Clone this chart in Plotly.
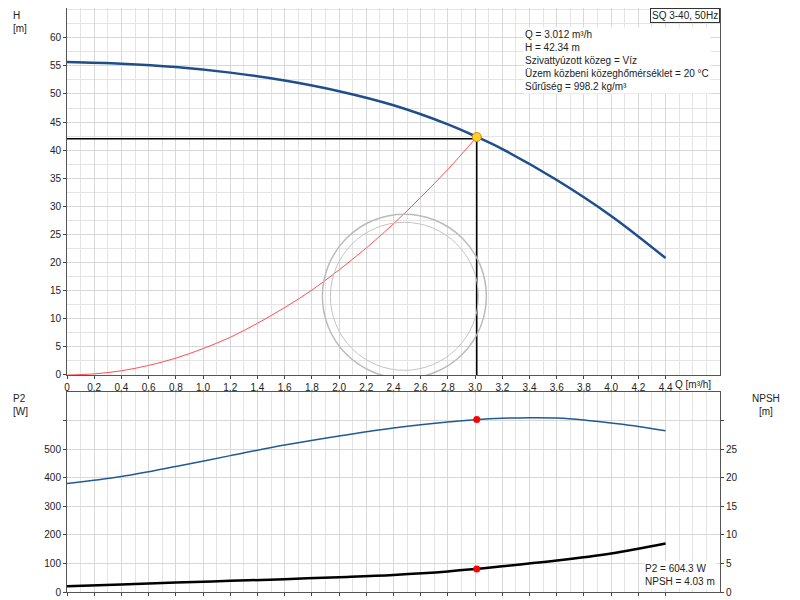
import plotly.graph_objects as go

# Pump curve H(Q)
q_h = [0, 0.4, 0.8, 1.2, 1.6, 2.0, 2.4, 2.8, 3.0, 3.2, 3.6, 4.0, 4.4]
h_vals = [55.7, 55.4, 54.8, 53.8, 52.4, 50.5, 48.0, 44.6, 42.5, 40.2, 34.7, 28.3, 20.8]
# System curve
q_sys = [0, 0.2, 0.4, 0.6, 0.8, 1.0, 1.2, 1.4, 1.6, 1.8, 2.0, 2.2, 2.4, 2.6, 2.8, 3.012]
h_sys = [0, 0.2, 0.75, 1.7, 3.0, 4.7, 6.7, 9.2, 12.0, 15.1, 18.7, 22.6, 26.9, 31.6, 36.6, 42.34]
# P2 and NPSH
q_p = [0, 0.4, 0.8, 1.2, 1.6, 2.0, 2.4, 2.8, 3.0, 3.2, 3.4, 3.6, 3.8, 4.0, 4.2, 4.4]
p2_vals = [380, 405, 440, 478, 515, 547, 575, 596, 604, 609, 611, 610, 603, 592, 580, 565]
q_n = [0, 0.4, 0.8, 1.2, 1.6, 2.0, 2.4, 2.8, 3.0, 3.2, 3.6, 4.0, 4.4]
npsh_vals = [1.0, 1.3, 1.65, 1.95, 2.25, 2.6, 3.0, 3.6, 4.03, 4.5, 5.5, 6.75, 8.5]
op_q, op_h, op_p2, op_npsh = 3.012, 42.34, 604.3, 4.03

x_ticks = [round(i * 0.2, 1) for i in range(23)]
x_text = [("0" if v == 0 else f"{v:.1f}".replace(".", ",")) for v in x_ticks]

font = dict(family="Liberation Sans, Arial", size=10, color="#222")
fig = go.Figure()

fig.add_trace(go.Scatter(x=q_sys, y=h_sys, mode="lines", line=dict(color="#ff5050", width=1, shape="spline"),
                         xaxis="x", yaxis="y"))
fig.add_trace(go.Scatter(x=q_h, y=h_vals, mode="lines", line=dict(color="#1f4e8c", width=2.5, shape="spline"),
                         xaxis="x", yaxis="y"))
fig.add_trace(go.Scatter(x=[0, op_q, op_q], y=[op_h - 0.3, op_h - 0.3, 0], mode="lines",
                         line=dict(color="black", width=1.5), xaxis="x", yaxis="y"))
fig.add_trace(go.Scatter(x=[op_q], y=[op_h], mode="markers",
                         marker=dict(color="#ffd030", size=9, line=dict(color="#e08000", width=1)),
                         xaxis="x", yaxis="y"))

fig.add_trace(go.Scatter(x=q_p, y=p2_vals, mode="lines", line=dict(color="#1f5a96", width=1.5, shape="spline"),
                         xaxis="x2", yaxis="y2"))
fig.add_trace(go.Scatter(x=[op_q], y=[op_p2], mode="markers", marker=dict(color="red", size=7),
                         xaxis="x2", yaxis="y2"))
fig.add_trace(go.Scatter(x=q_n, y=npsh_vals, mode="lines", line=dict(color="black", width=2.5, shape="spline"),
                         xaxis="x2", yaxis="y3"))
fig.add_trace(go.Scatter(x=[op_q], y=[op_npsh], mode="markers", marker=dict(color="red", size=7),
                         xaxis="x2", yaxis="y3"))

axcommon = dict(showline=True, linecolor="#555", mirror=True, ticks="outside", ticklen=3, automargin=False,
                gridcolor="#d8d8d8", zeroline=False, tickfont=font)
# faint watermark circles
wm = dict(type="circle", xref="x", yref="y", xsizemode="pixel", ysizemode="pixel", xanchor=2.48, yanchor=14)
fig.update_layout(
    width=792, height=592, showlegend=False, plot_bgcolor="white", paper_bgcolor="white",
    margin=dict(l=59, r=80, t=0, b=8), font=font,
    xaxis=dict(axcommon, range=[0, 4.8], domain=[0, 1], anchor="y", tickvals=x_ticks, ticktext=x_text,
               minor=dict(dtick=0.1, showgrid=True, gridcolor="#e4e4e4")),
    yaxis=dict(axcommon, range=[0, 65.3], domain=[0.3716, 1], tickvals=list(range(0, 65, 5)),
               minor=dict(dtick=2.5, showgrid=True, gridcolor="#e4e4e4")),
    xaxis2=dict(axcommon, range=[0, 4.8], domain=[0, 1], anchor="y2", tickvals=x_ticks, showticklabels=False,
                minor=dict(dtick=0.1, showgrid=True, gridcolor="#e4e4e4")),
    yaxis2=dict(axcommon, range=[0, 700], domain=[0, 0.342], anchor="x2", tickvals=[0, 100, 200, 300, 400, 500, 600],
                ticktext=["0", "100", "200", "300", "400", "500", ""]),
    yaxis3=dict(axcommon, range=[0, 35], overlaying="y2", side="right", anchor="x2", showgrid=False,
                tickvals=[0, 5, 10, 15, 20, 25, 30], ticktext=["0", "5", "10", "15", "20", "25", ""]),
    shapes=[
        dict(wm, x0=-82, x1=82, y0=-82, y1=82, line=dict(color="#bbb", width=1.5)),
        dict(wm, x0=-74, x1=74, y0=-74, y1=74, line=dict(color="#c4c4c4", width=1)),
    ],
    annotations=[
        dict(text="H<br>[m]", x=-0.085, y=1.0, xref="paper", yref="paper", showarrow=False, align="left",
             xanchor="left", yanchor="top", font=font),
        dict(text="Q [m³/h]", x=4.6, y=0, xref="x", yref="y", showarrow=False, yshift=-10, font=font),
        dict(text="P2<br>[W]", x=-0.085, y=0.345, xref="paper", yref="paper", showarrow=False, align="left",
             xanchor="left", yanchor="top", font=font),
        dict(text="NPSH<br>[m]", x=1.07, y=0.345, xref="paper", yref="paper", showarrow=False, align="center",
             xanchor="center", yanchor="top", font=font),
        dict(text="SQ 3-40, 50Hz", x=1.0, y=1.0, xref="paper", yref="paper", showarrow=False, xanchor="right",
             yanchor="top", bordercolor="#333", borderwidth=1, bgcolor="white", font=font),
        dict(text="Q = 3.012 m³/h<br>H = 42.34 m<br>Szivattyúzott közeg = Víz<br>"
                  "Üzem közbeni közeghőmérséklet = 20 °C<br>Sűrűség = 998.2 kg/m³",
             x=0.698, y=0.968, xref="paper", yref="paper", showarrow=False, align="left",
             xanchor="left", yanchor="top", bgcolor="white", font=font),
        dict(text="P2 = 604.3 W<br>NPSH = 4.03 m", x=0.995, y=0.005, xref="paper", yref="paper",
             showarrow=False, align="left", xanchor="right", yanchor="bottom", bgcolor="white", font=font),
    ],
)
fig.write_html("out.html")
